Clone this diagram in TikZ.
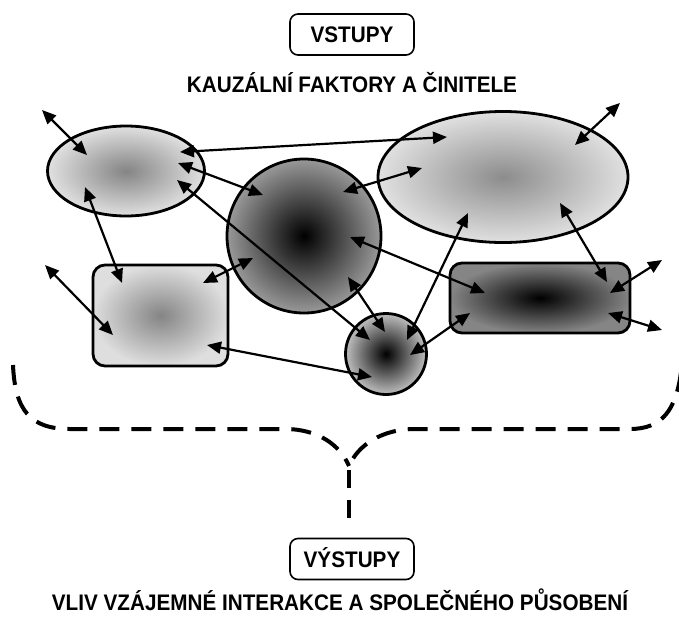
\documentclass[tikz,border=0pt]{standalone}
\usepackage{fontspec}
\setmainfont{Liberation Sans}
\newfontfamily\condfont[FakeStretch=0.92]{Liberation Sans}
\usetikzlibrary{arrows.meta,shapes.geometric}
\begin{document}
\begin{tikzpicture}[x=1pt,y=-1pt,
  shapeline/.style={draw=black, line width=2.8pt},
  ell/.style={shapeline, ellipse, inner sep=0pt},
  ball/.style={shapeline, circle, inner sep=0pt},
  rbox/.style={shapeline, rectangle, rounded corners=12pt, inner sep=0pt},
  link/.style={line width=2.2pt, {Triangle[length=14pt,width=12pt]}-{Triangle[length=14pt,width=12pt]}},
  labelbox/.style={draw, line width=1.6pt, rounded corners=8pt, minimum width=124pt, minimum height=41pt, inner sep=0pt,
     text height=16.1pt, text depth=0pt, font=\condfont\fontsize{22.5}{26}\selectfont\bfseries},
  titletext/.style={font=\condfont\fontsize{22.5}{26}\selectfont\bfseries, inner sep=0pt},
  brace/.style={line width=4pt, dash pattern=on 20pt off 12pt},
  stem/.style={line width=4pt, dash pattern=on 18pt off 12pt}
]
\useasboundingbox (0,0) rectangle (679,616);

% texts
\node[labelbox] (inputs) at (352,34.5) {VSTUPY};
\node[titletext, anchor=base] (causes) at (352,92) {KAUZÁLNÍ FAKTORY A ČINITELE};
\node[labelbox] (outputs) at (352,559) {VÝSTUPY};
\node[titletext, anchor=base] (effect) at (340,610.5) {VLIV VZÁJEMNÉ INTERAKCE A SPOLEČNÉHO PŮSOBENÍ};

% shapes
\node[ell, minimum width=157pt, minimum height=90pt, inner color=black!48, outer color=black!12] (lell) at (126,171) {};
\node[ell, minimum width=250pt, minimum height=131pt, inner color=black!45, outer color=black!12] (rell) at (503,177) {};
\node[ball, minimum size=154pt, inner color=black, outer color=black!40] (bigc) at (304,236) {};
\node[rbox, minimum width=135pt, minimum height=101pt, inner color=black!48, outer color=black!13] (lrect) at (160.5,315.5) {};
\node[rbox, minimum width=180pt, minimum height=70pt, inner color=black, outer color=black!48] (drect) at (540,298) {};
\node[ball, minimum size=81pt, inner color=black, outer color=black!25] (smallc) at (386,354) {};

% arrow end points
\coordinate (a1s) at (42,110);   \coordinate (a1e) at (87,155);
\coordinate (a2s) at (85,187);   \coordinate (a2e) at (122,283);
\coordinate (a3s) at (180,152);  \coordinate (a3e) at (447,137);
\coordinate (a4s) at (178,163);  \coordinate (a4e) at (263,195);
\coordinate (a5s) at (177,180);  \coordinate (a5e) at (370,340);
\coordinate (a6s) at (203,283);  \coordinate (a6e) at (253,258);
\coordinate (a7s) at (45,265);   \coordinate (a7e) at (113,335);
\coordinate (a8s) at (207,345);  \coordinate (a8e) at (372,377);
\coordinate (a9s) at (343,192);  \coordinate (a9e) at (422,168);
\coordinate (a10s) at (575,145); \coordinate (a10e) at (620,103);
\coordinate (a11s) at (560,203); \coordinate (a11e) at (607,282);
\coordinate (a12s) at (350,237); \coordinate (a12e) at (485,293);
\coordinate (a13s) at (348,277); \coordinate (a13e) at (385,332);
\coordinate (a14s) at (407,340); \coordinate (a14e) at (468,213);
\coordinate (a15s) at (410,355); \coordinate (a15e) at (470,313);
\coordinate (a16s) at (610,293); \coordinate (a16e) at (662,260);
\coordinate (a17s) at (608,313); \coordinate (a17e) at (662,330);

\foreach \i in {1,...,17} {\draw[link] (a\i s) -- (a\i e);}

% dashed brace
\coordinate (bl) at (13,365);
\coordinate (br) at (681,372);
\coordinate (bm) at (349,466);
\coordinate (bv) at (349,470);
\coordinate (bo) at (349,520);
\draw[brace] (bl) .. controls (15,410) and (30,429) .. (70,429) -- (285,429) .. controls (318,429) and (340,445) .. (bm);
\draw[brace] (br) .. controls (676,410) and (662,429) .. (630,429) -- (415,429) .. controls (382,429) and (358,445) .. (bm);
\draw[stem] (bv) -- (bo);
\end{tikzpicture}
\end{document}
